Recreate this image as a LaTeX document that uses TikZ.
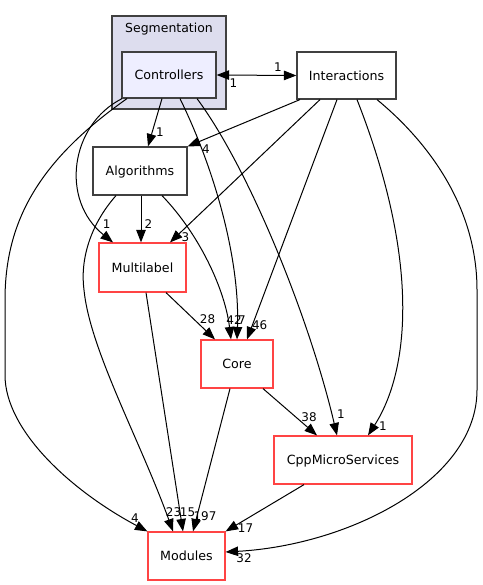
\documentclass[tikz,border=0pt]{standalone}
\usepackage{fontspec}
\setmainfont{DejaVu Sans}
\usetikzlibrary{arrows.meta,calc}
\definecolor{clfill}{HTML}{DDDDEE}
\definecolor{ctfill}{HTML}{EEEEFF}
\definecolor{bord}{HTML}{404040}
\definecolor{redb}{HTML}{FF4444}
\tikzset{gvtip/.tip={Triangle[length=12.5pt,width=9.5pt]}}
\begin{document}
\begin{tikzpicture}[x=1bp,y=-1bp,
  box/.style={draw=bord,line width=1.2bp,fill=white,inner sep=0pt,
    font=\fontsize{12.7}{14}\selectfont,text height=9.2bp,text depth=0bp},
  redbox/.style={box,draw=redb},
  edge/.style={line width=1bp,-{gvtip}},
  bedge/.style={line width=1bp,{gvtip}-{gvtip}},
  lbl/.style={inner sep=0pt,font=\fontsize{12}{14}\selectfont,text height=8.7bp,text depth=0bp}]
\useasboundingbox (0,0) rectangle (483,585);
\fill[white] (0,0) rectangle (483,585);
% cluster
\node[draw=bord,fill=clfill,line width=1.2bp,minimum width=114bp,minimum height=93bp,inner sep=0pt] (seg) at (169,62.5) {};
\node[inner sep=0pt,font=\fontsize{12.5}{14}\selectfont,text height=9.1bp,text depth=0bp] (segl) at (169,27.5) {Segmentation};
% nodes
\node[box,fill=ctfill,minimum width=94bp,minimum height=46bp] (ctrl) at (169,75) {Controllers};
\node[box,minimum width=99bp,minimum height=47bp] (inter) at (346.5,75.5) {Interactions};
\node[box,minimum width=94bp,minimum height=48bp] (alg) at (140,171) {Algorithms};
\node[redbox,minimum width=87bp,minimum height=49bp] (multi) at (142.5,267.5) {Multilabel};
\node[redbox,minimum width=72bp,minimum height=48bp] (core) at (237,364) {Core};
\node[redbox,minimum width=138bp,minimum height=48bp] (cpp) at (343,460) {CppMicroServices};
\node[redbox,minimum width=77bp,minimum height=48bp] (mod) at (186.5,556) {Modules};
% edges
\draw[bedge] (ctrl.east) -- (inter.west);
\draw[edge] (162,0 |- ctrl.south) -- (148,0 |- alg.north);
\draw[edge] (300,0 |- inter.south) -- (alg.north east);
\draw[edge] (320,0 |- inter.south) -- (170,0 |- multi.north);
\draw[edge] (337,0 |- inter.south) -- (247,0 |- core.north);
\draw[edge] (357,0 |- inter.south) .. controls (420,260) and (410,370) .. (368,0 |- cpp.north);
\draw[edge] (377,0 |- inter.south) .. controls (420,135) and (477,200) .. (477,290) -- (477,390) .. controls (477,480) and (350,545) .. (mod.east |- 0,552);
\draw[edge] (122,0 |- ctrl.south) .. controls (70,125) and (60,200) .. (113,0 |- multi.north);
\draw[edge] (127,0 |- ctrl.south) .. controls (40,160) and (5,220) .. (5,300) -- (5,375) .. controls (5,430) and (70,490) .. (mod.north west);
\draw[edge] (116,0 |- alg.south) .. controls (90,225) and (80,260) .. (84,290) .. controls (90,350) and (140,440) .. (173,0 |- mod.north);
\draw[edge] (146,0 |- multi.south) -- (183,0 |- mod.north);
\draw[edge] (141,0 |- alg.south) -- (141,0 |- multi.north);
\draw[edge] (162,0 |- alg.south) .. controls (200,235) and (225,290) .. (231,0 |- core.north);
\draw[edge] (180,0 |- ctrl.south) .. controls (215,170) and (240,260) .. (237,0 |- core.north);
\draw[edge] (197,0 |- ctrl.south) .. controls (250,170) and (310,320) .. (337,0 |- cpp.north);
\draw[edge] (166,0 |- multi.south) -- (215,0 |- core.north);
\draw[edge] (263,0 |- core.south) -- (317,0 |- cpp.north);
\draw[edge] (230,0 |- core.south) -- (193,0 |- mod.north);
\draw[edge] (304,0 |- cpp.south) -- (mod.north east);
% labels
\node[lbl] (l1) at (278,66.7) {1};
\node[lbl] (l2) at (233.5,83.3) {1};
\node[lbl] (l3) at (160,131.7) {1};
\node[lbl] (l4) at (206,149) {4};
\node[lbl] (l5) at (106.7,224) {1};
\node[lbl] (l6) at (148.5,224) {2};
\node[lbl] (l7) at (185.5,237) {3};
\node[lbl] (l8) at (207.5,319.5) {28};
\node[lbl] (l9) at (234,320) {42};
\node[lbl] (l10) at (242,320) {7};
\node[lbl] (l11) at (259.7,325) {46};
\node[lbl] (l12) at (341,414.5) {1};
\node[lbl] (l13) at (383,426) {1};
\node[lbl] (l14) at (309,416.7) {38};
\node[lbl] (l15) at (135,518) {4};
\node[lbl] (l16) at (173.5,511.7) {23};
\node[lbl] (l17) at (187.5,511.7) {15};
\node[lbl] (l18) at (205,515.7) {197};
\node[lbl] (l19) at (245.5,528) {17};
\node[lbl] (l20) at (244,558.5) {32};
\end{tikzpicture}
\end{document}
